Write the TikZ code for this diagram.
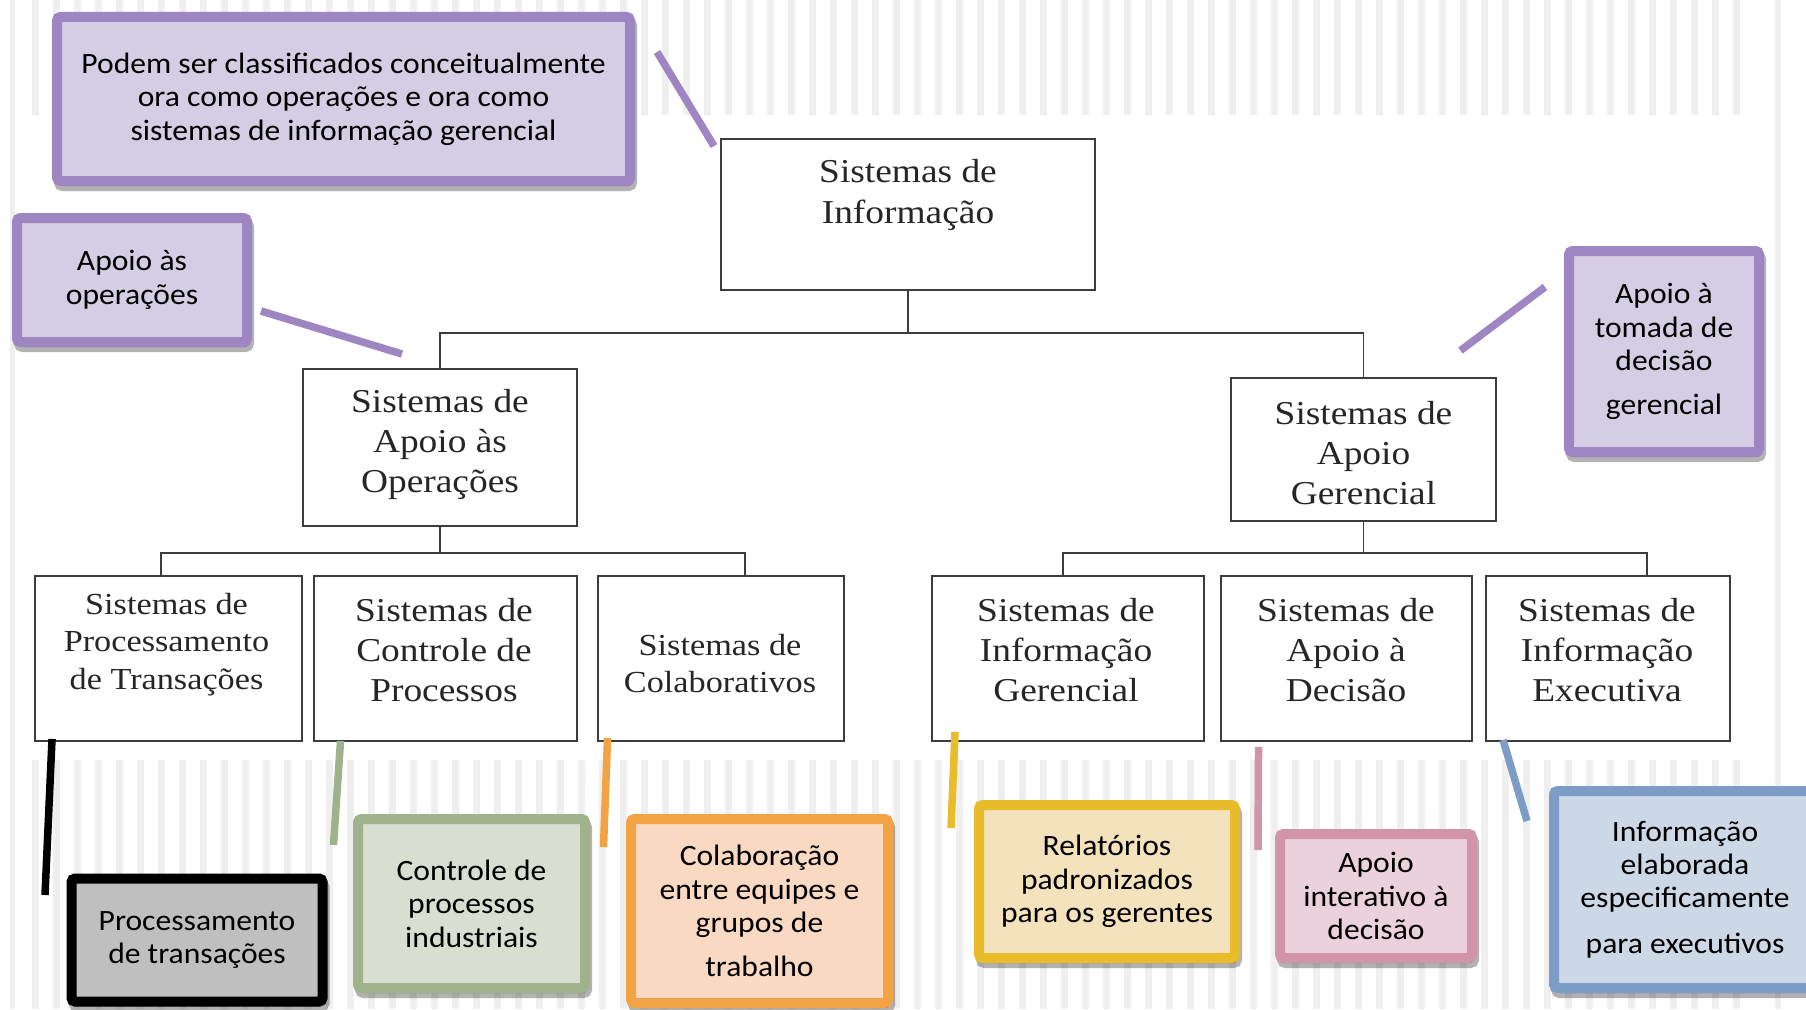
\documentclass[tikz,border=0pt]{standalone}
\usepackage{fontspec}
\newfontfamily\orgfont[FakeStretch=1.12]{Liberation Serif}
\newfontfamily\calfont[FakeStretch=1.07]{Carlito}
\usetikzlibrary{shadows}

\definecolor{linegray}{HTML}{3C3C3C}
\definecolor{stripegray}{HTML}{EFEFEF}
\definecolor{purpb}{HTML}{9E86C2}
\definecolor{purpf}{HTML}{D5CDE3}
\definecolor{blkb}{HTML}{000000}
\definecolor{blkf}{HTML}{BFBFBF}
\definecolor{grnb}{HTML}{A0B28C}
\definecolor{grnf}{HTML}{D8DED0}
\definecolor{orab}{HTML}{F2A444}
\definecolor{oraf}{HTML}{F9D9C1}
\definecolor{yelb}{HTML}{E8BC2A}
\definecolor{yelf}{HTML}{F4E2BD}
\definecolor{pnkb}{HTML}{D194A8}
\definecolor{pnkf}{HTML}{EBD1DB}
\definecolor{blub}{HTML}{7E9DC6}
\definecolor{bluf}{HTML}{CDD8E6}

\begin{document}
\begin{tikzpicture}[
    orgbox/.style={draw=linegray, line width=1.1pt, fill=white, inner sep=0pt},
    orgtext/.style={font=\orgfont\fontsize{19}{23}\selectfont, text=black!85, align=center, inner sep=0pt},
    smalltext/.style={orgtext, font=\orgfont\fontsize{17.4}{21.3}\selectfont},
    link/.style={draw=linegray, line width=1.1pt},
    callout/.style={draw=#1b, fill=#1f, line width=0.2cm, rounded corners=2pt,
        align=center, inner sep=0pt, font=\calfont\fontsize{16.8}{19}\selectfont,
        drop shadow={draw=black, fill=black, line width=0.2cm, opacity=0.3,
            shadow xshift=0.04cm, shadow yshift=-0.1cm}},
    tail/.style={draw=#1b, line width=0.15cm}
]
    \useasboundingbox (0,0) rectangle (36.12,-20.18);
    \clip (0,0) rectangle (36.12,-20.18);

    % slide background
    \foreach \x in {0.64,1.06,...,34.78} {
        \fill[stripegray] (\x,0) rectangle ++(0.14,-2.30);
        \fill[stripegray] (\x,-15.20) rectangle ++(0.14,-4.98);
    }
    \fill[stripegray] (0.20,0) rectangle (0.30,-20.18);
    \fill[stripegray] (35.50,0) rectangle (35.62,-20.18);

    % org chart
    \node[orgbox, minimum width=7.48cm, minimum height=3.02cm] (info) at (18.16,-4.29) {};
    \node[orgtext] (infotxt) at (18.16,-3.90) {Sistemas de\\Informação};
    \node[orgbox, minimum width=5.48cm, minimum height=3.14cm] (opr) at (8.80,-8.95) {};
    \node[orgtext] (oprtxt) at (8.80,-8.89) {Sistemas de\\Apoio às\\Operações};
    \node[orgbox, minimum width=5.30cm, minimum height=2.86cm] (ger) at (27.27,-8.99) {};
    \node[orgtext] (gertxt) at (27.27,-9.06) {Sistemas de\\Apoio\\Gerencial};

    \node[orgbox, minimum width=5.34cm, minimum height=3.30cm] (tps) at (3.37,-13.17) {};
    \node[smalltext] (tpstxt) at (3.33,-12.89) {Sistemas de\\Processamento\\de Transações};
    \node[orgbox, minimum width=5.26cm, minimum height=3.30cm] (pcs) at (8.91,-13.17) {};
    \node[orgtext] (pcstxt) at (8.88,-13.00) {Sistemas de\\Controle de\\Processos};
    \node[orgbox, minimum width=4.92cm, minimum height=3.30cm] (col) at (14.42,-13.17) {};
    \node[smalltext] (coltxt) at (14.40,-13.27) {Sistemas de\\Colaborativos};
    \node[orgbox, minimum width=5.44cm, minimum height=3.30cm] (sig) at (21.36,-13.17) {};
    \node[orgtext] (sigtxt) at (21.32,-13.00) {Sistemas de\\Informação\\Gerencial};
    \node[orgbox, minimum width=5.02cm, minimum height=3.30cm] (sad) at (26.93,-13.17) {};
    \node[orgtext] (sadtxt) at (26.92,-13.00) {Sistemas de\\Apoio à\\Decisão};
    \node[orgbox, minimum width=4.88cm, minimum height=3.30cm] (sie) at (32.16,-13.17) {};
    \node[orgtext] (sietxt) at (32.14,-13.00) {Sistemas de\\Informação\\Executiva};

    \coordinate (topbus) at (18.16,-6.66);
    \draw[link] (info.south) -- (topbus);
    \draw[link] (opr.north) |- (topbus) -| (ger.north);
    \coordinate (oprbus) at (8.80,-11.06);
    \draw[link] (opr.south) -- (oprbus);
    \draw[link] ([xshift=-0.15cm]tps.north) |- (oprbus) -| ([xshift=0.48cm]col.north);
    \coordinate (gerbus) at (27.27,-11.06);
    \draw[link] (ger.south) -- (gerbus);
    \draw[link] ([xshift=-0.10cm]sig.north) |- (gerbus) -| ([xshift=0.78cm]sie.north);

    % callouts
    \node[callout=purp, minimum width=11.46cm, minimum height=3.28cm] (purp1) at (6.87,-1.98)
        {Podem ser classificados conceitualmente\\ora como operações e ora como\\sistemas de informação gerencial};
    \node[callout=purp, minimum width=4.60cm, minimum height=2.48cm] (purp2) at (2.64,-5.60)
        {Apoio às\\operações};
    \node[callout=purp, minimum width=3.80cm, minimum height=4.02cm] (purp3) at (33.28,-7.03)
        {Apoio à\\tomada de\\decisão\\[6pt]gerencial};
    \node[callout=blk, minimum width=5.02cm, minimum height=2.46cm] (blk) at (3.94,-18.80)
        {Processamento\\de transações};
    \node[callout=grn, minimum width=4.54cm, minimum height=3.38cm] (grn) at (9.43,-18.07)
        {Controle de\\processos\\industriais};
    \node[callout=ora, minimum width=5.14cm, minimum height=3.68cm] (ora) at (15.19,-18.22)
        {Colaboração\\entre equipes e\\grupos de\\[6pt]trabalho};
    \node[callout=yel, minimum width=5.12cm, minimum height=3.06cm] (yel) at (22.14,-17.63)
        {Relatórios\\padronizados\\para os gerentes};
    \node[callout=pnk, minimum width=3.84cm, minimum height=2.48cm] (pnk) at (27.52,-17.92)
        {Apoio\\interativo à\\decisão};
    \node[callout=blu, minimum width=5.24cm, minimum height=3.94cm] (blu) at (33.70,-17.79)
        {Informação\\elaborada\\especificamente\\[7pt]para executivos};

    % callout tails
    \draw[tail=purp] ([shift={(0.44,-0.80)}]purp1.north east) -- ([shift={(-0.12,-0.16)}]info.north west);
    \draw[tail=purp] ([shift={(0.18,-0.62)}]purp2.east) -- ([shift={(-0.76,0.28)}]opr.north);
    \draw[tail=purp] ([shift={(-0.38,1.29)}]purp3.west) -- ([shift={(-0.73,0.53)}]ger.north east);
    \draw[tail=blk] ([shift={(0.36,0.06)}]tps.south west) -- ([shift={(-0.43,-0.43)}]blk.north west);
    \draw[tail=grn] ([shift={(0.55,0.02)}]pcs.south west) -- ([shift={(-0.39,-0.62)}]grn.north west);
    \draw[tail=ora] ([shift={(0.21,0.08)}]col.south west) -- ([shift={(-0.45,-0.66)}]ora.north west);
    \draw[tail=yel] ([shift={(0.48,0.20)}]sig.south west) -- ([shift={(-0.46,-0.56)}]yel.north west);
    \draw[tail=pnk] ([shift={(0.77,-0.10)}]sad.south west) -- ([shift={(-0.34,-0.42)}]pnk.north west);
    \draw[tail=blu] ([shift={(0.36,0.04)}]sie.south west) -- ([shift={(-0.44,-0.70)}]blu.north west);
\end{tikzpicture}
\end{document}
